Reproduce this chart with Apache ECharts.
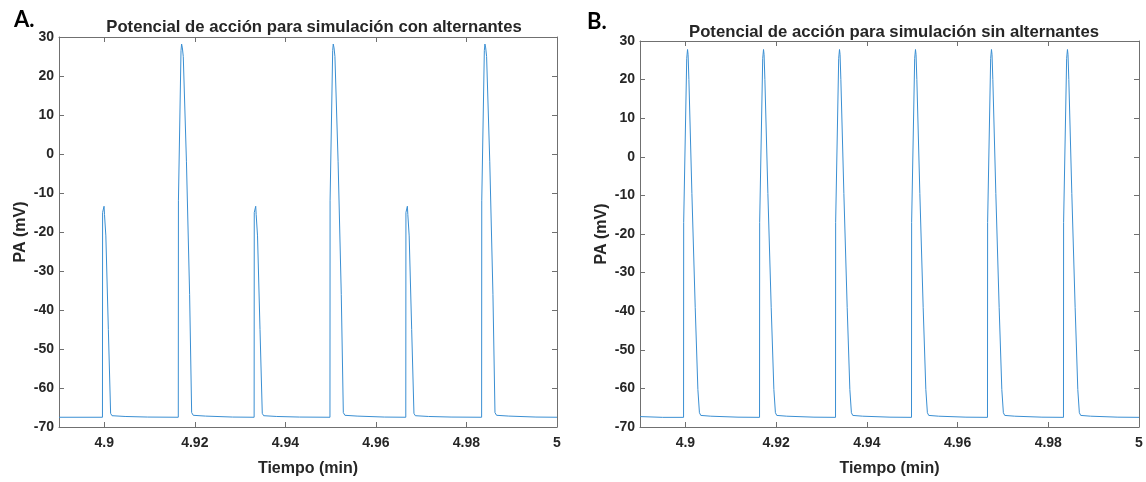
<!DOCTYPE html>
<html><head><meta charset="utf-8">
<script src="https://cdn.jsdelivr.net/npm/echarts@6/dist/echarts.min.js"></script>
<style>html,body{margin:0;padding:0;background:#fff}#c{width:1146px;height:482px}</style>
</head><body><div id="c"></div>
<script>
// Panel A (with alternans): time (min) and membrane potential (mV)
const timeA = [4.89,
 4.89960,4.89963,4.89995,4.90005,4.90035,4.90090,4.90140,4.90170,4.90460,4.90960,
 4.91635,4.91638,4.91695,4.91708,4.91725,4.91745,4.91815,4.91885,4.91930,4.91965,4.92235,4.92835,
 4.93310,4.93313,4.93345,4.93355,4.93385,4.93440,4.93490,4.93520,4.93810,4.94310,
 4.94985,4.94988,4.95045,4.95058,4.95075,4.95095,4.95165,4.95235,4.95280,4.95315,4.95585,4.96185,
 4.96660,4.96663,4.96695,4.96705,4.96735,4.96790,4.96840,4.96870,4.97160,4.97660,
 4.98335,4.98338,4.98395,4.98408,4.98425,4.98445,4.98515,4.98585,4.98630,4.98665,4.98935,4.99535,
 5.0];
const paA = [-67.5,
 -67.5,-15,-13.4,-15.5,-21,-45,-66.5,-67.1,-67.3,-67.45,
 -67.5,-12,26.5,28.2,27.2,25,-2,-36,-66.3,-67.0,-67.2,-67.45,
 -67.5,-15,-13.4,-15.5,-21,-45,-66.5,-67.1,-67.3,-67.45,
 -67.5,-12,26.5,28.2,27.2,25,-2,-36,-66.3,-67.0,-67.2,-67.45,
 -67.5,-15,-13.4,-15.5,-21,-45,-66.5,-67.1,-67.3,-67.45,
 -67.5,-12,26.5,28.2,27.2,25,-2,-36,-66.3,-67.0,-67.2,-67.45,
 -67.5];
// Panel B (without alternans)
const timeB = [4.89,4.895,
 4.89960,4.89963,4.90030,4.90048,4.90060,4.90078,4.90144,4.90217,4.90276,4.90310,4.90340,4.90560,4.91160,
 4.91635,4.91638,4.91705,4.91723,4.91735,4.91753,4.91819,4.91892,4.91951,4.91985,4.92015,4.92235,4.92835,
 4.93310,4.93313,4.93380,4.93398,4.93410,4.93428,4.93494,4.93567,4.93626,4.93660,4.93690,4.93910,4.94510,
 4.94985,4.94988,4.95055,4.95073,4.95085,4.95103,4.95169,4.95242,4.95301,4.95335,4.95365,4.95585,4.96185,
 4.96660,4.96663,4.96730,4.96748,4.96760,4.96778,4.96844,4.96917,4.96976,4.97010,4.97040,4.97260,4.97860,
 4.98335,4.98338,4.98405,4.98423,4.98435,4.98453,4.98519,4.98592,4.98651,4.98685,4.98715,4.98935,4.99535,
 5.0];
const paB = [-67.3,-67.5,
 -67.5,-17,25.5,27.8,26.5,20,-9.5,-39,-60.3,-66.3,-67.0,-67.2,-67.45,
 -67.5,-17,25.5,27.8,26.5,20,-9.5,-39,-60.3,-66.3,-67.0,-67.2,-67.45,
 -67.5,-17,25.5,27.8,26.5,20,-9.5,-39,-60.3,-66.3,-67.0,-67.2,-67.45,
 -67.5,-17,25.5,27.8,26.5,20,-9.5,-39,-60.3,-66.3,-67.0,-67.2,-67.45,
 -67.5,-17,25.5,27.8,26.5,20,-9.5,-39,-60.3,-66.3,-67.0,-67.2,-67.45,
 -67.5,-17,25.5,27.8,26.5,20,-9.5,-39,-60.3,-66.3,-67.0,-67.2,-67.45,
 -67.5];
const xTicks = [4.9, 4.92, 4.94, 4.96, 4.98, 5];
const titles = ['Potencial de acción para simulación con alternantes', 'Potencial de acción para simulación sin alternantes'];
const panelLetters = ['A.', 'B.'];

const FONT = 'Liberation Sans';
const AX = '#707070';
const TXT = '#262626';
const LINE = '#3a8fd3';

function xAx(grid, pos) {
  const bottom = pos === 'bottom';
  return {
    type: 'value', gridIndex: grid, position: pos, min: 4.89, max: 5.0,
    axisLine: {show: true, onZero: false, lineStyle: {color: AX, width: 1}},
    axisTick: {show: true, inside: true, length: 5, customValues: xTicks, lineStyle: {color: AX}},
    axisLabel: {show: bottom, customValues: xTicks, margin: 9, color: TXT, fontFamily: FONT, fontWeight: 'bold', fontSize: 14,
      formatter: v => String(+v.toFixed(2))},
    splitLine: {show: false},
    name: bottom ? 'Tiempo (min)' : '', nameLocation: 'middle', nameGap: 34,
    nameTextStyle: {color: TXT, fontFamily: FONT, fontWeight: 'bold', fontSize: 16}
  };
}
function yAx(grid, pos) {
  const left = pos === 'left';
  return {
    type: 'value', gridIndex: grid, position: pos, min: -70, max: 30, interval: 10,
    axisLine: {show: true, onZero: false, lineStyle: {color: AX, width: 1}},
    axisTick: {show: true, inside: true, length: 5, lineStyle: {color: AX}},
    axisLabel: {show: left, margin: 5, color: TXT, fontFamily: FONT, fontWeight: 'bold', fontSize: 14},
    splitLine: {show: false},
    name: left ? 'PA (mV)' : '', nameLocation: 'middle', nameGap: 30,
    nameTextStyle: {color: TXT, fontFamily: FONT, fontWeight: 'bold', fontSize: 16}
  };
}
const chart = echarts.init(document.getElementById('c'));
chart.setOption({
  animation: false,
  backgroundColor: '#fff',
  title: [
    {text: titles[0], left: 309, top: 14, textAlign: 'center', textStyle: {fontFamily: FONT, fontWeight: 'bold', fontSize: 16.7, color: TXT}},
    {text: titles[1], left: 889, top: 19, textAlign: 'center', textStyle: {fontFamily: FONT, fontWeight: 'bold', fontSize: 16.7, color: TXT}},
    {text: panelLetters[0], left: 9, top: 4, textStyle: {fontFamily: 'Lato', fontWeight: 'bold', fontSize: 22, color: '#000'}},
    {text: panelLetters[1], left: 582, top: 6, textStyle: {fontFamily: 'Lato', fontWeight: 'bold', fontSize: 22, color: '#000'}}
  ],
  grid: [
    {left: 59, top: 37, width: 498, height: 392, show: false},
    {left: 640, top: 41, width: 499, height: 394, show: false}
  ],
  xAxis: [xAx(0, 'bottom'), xAx(0, 'top'), xAx(1, 'bottom'), xAx(1, 'top')],
  yAxis: [yAx(0, 'left'), yAx(0, 'right'), yAx(1, 'left'), yAx(1, 'right')],
  series: [
    {type: 'line', xAxisIndex: 0, yAxisIndex: 0, showSymbol: false, silent: true,
     lineStyle: {color: LINE, width: 1}, data: timeA.map((t, i) => [t, paA[i]])},
    {type: 'line', xAxisIndex: 2, yAxisIndex: 2, showSymbol: false, silent: true,
     lineStyle: {color: LINE, width: 1}, data: timeB.map((t, i) => [t, paB[i]])}
  ]
});
</script></body></html>
